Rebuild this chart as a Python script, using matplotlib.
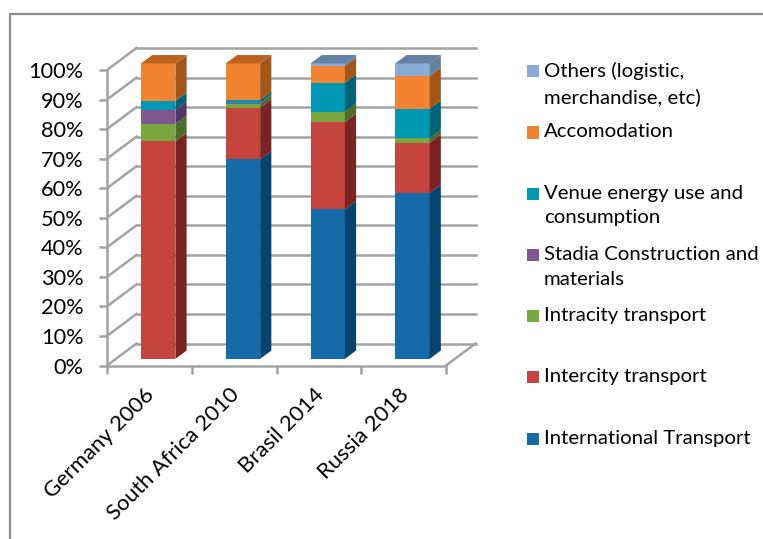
import numpy as np
import matplotlib
matplotlib.use('Agg')
import matplotlib.pyplot as plt
from matplotlib.lines import Line2D
from matplotlib.patches import Polygon, Rectangle

plt.rcParams['font.family'] = ['Lato', 'DejaVu Sans']

# data
years = ['Germany 2006', 'South Africa 2010', 'Brasil 2014', 'Russia 2018']
international = [0.0, 67.5, 50.6, 56.1]
intercity = [73.6, 17.5, 29.5, 17.0]
intracity = [6.0, 1.4, 3.6, 1.6]
stadia = [4.7, 0.3, 0.0, 0.0]
venue = [3.0, 0.9, 9.7, 9.9]
accomodation = [12.7, 12.4, 5.7, 11.2]
others = [0.0, 0.0, 0.9, 4.2]

names = ['International Transport', 'Intercity transport', 'Intracity transport',
         'Stadia Construction and\nmaterials', 'Venue energy use and\nconsumption',
         'Accomodation', 'Others (logistic,\nmerchandise, etc)']
series = [international, intercity, intracity, stadia, venue, accomodation, others]
front_cols = ['#156BA8', '#C5443E', '#7AA63F', '#7F5692', '#0098B3', '#F28330', '#8AABD6']
side_cols = ['#054470', '#7B2222', '#4D6B2A', '#4F3666', '#006478', '#A35618', '#64809F']
top_cols = ['#0A5082', '#8F2B2B', '#5A7D30', '#5C3F75', '#00738A', '#BB6420', '#6580A5']

W, H = 763, 539
fig = plt.figure(figsize=(W / 100, H / 100), dpi=100)

# front plane of the fake 3d box, in pixels
left, right, bottom, top = 107, 446, 365.5, 70
ax = fig.add_axes([left / W, 1 - bottom / H, (right - left) / W, (bottom - top) / H])
ax.set_xlim(0, 4)
ax.set_ylim(0, 100)
ax.patch.set_visible(False)

# depth of the box in data units
dx = 29.5 / ((right - left) / 4)
dy = 22 / ((bottom - top) / 100)
grey = '#A3A3A3'

for v in range(0, 101, 10):
    ax.plot([0, dx], [v, v + dy], color=grey, lw=1.8, clip_on=False, zorder=1)
    ax.plot([dx, 4 + dx], [v + dy, v + dy], color=grey, lw=1.8, clip_on=False, zorder=1)
ax.plot([4, 4 + dx], [0, dy], color=grey, lw=1.8, clip_on=False, zorder=1)

# bars, front face with ax.bar and side and top as polygons
d0, d1 = 0.3, 0.68
bw = 0.405
for i in range(len(years)):
    xl = i + 0.5 - bw / 2 + d0 * dx
    xr = xl + bw
    ox = (d1 - d0) * dx
    oy = (d1 - d0) * dy
    base = d0 * dy
    for s, vals in enumerate(series):
        h = vals[i]
        if h == 0:
            continue
        ax.bar(xl, h, bw, bottom=base, align='edge', color=front_cols[s], clip_on=False, zorder=3)
        side = [(xr, base), (xr + ox, base + oy), (xr + ox, base + h + oy), (xr, base + h)]
        ax.add_patch(Polygon(side, closed=True, fc=side_cols[s], ec='none', clip_on=False, zorder=3))
        base += h
        last = s
    roof = [(xl, base), (xr, base), (xr + ox, base + oy), (xl + ox, base + oy)]
    ax.add_patch(Polygon(roof, closed=True, fc=top_cols[last], ec='none', clip_on=False, zorder=3))

# axes
for name in ['top', 'right']:
    ax.spines[name].set_visible(False)
for name in ['left', 'bottom']:
    ax.spines[name].set_color(grey)
    ax.spines[name].set_linewidth(1.8)
ax.set_yticks(np.arange(0, 101, 10))
ax.set_yticklabels(['%d%%' % v for v in range(0, 101, 10)], fontsize=15.7, color='black')
ax.tick_params(axis='y', length=6, width=1.8, color=grey, pad=11)
ax.set_xticks(range(5))
ax.set_xticklabels([])
ax.tick_params(axis='x', which='major', length=6, width=1.8, color=grey)
ax.set_xticks(np.arange(4) + 0.44, minor=True)
ax.set_xticklabels(years, minor=True, rotation=45, ha='right', va='top',
                   rotation_mode='anchor', fontsize=15.9)
ax.tick_params(axis='x', which='minor', length=0, pad=13.5)

# legend, from the top down
legend_y = [71, 132.5, 193.5, 255, 316, 377, 439]
for y, name, col in zip(legend_y, names[::-1], front_cols[::-1]):
    fig.add_artist(Rectangle((527 / W, 1 - (y + 6) / H), 12 / W, 12 / H, fc=col, ec='none',
                             transform=fig.transFigure))
    fig.text(544 / W, 1 - (y - 9) / H, name, fontsize=14.65, va='top', ha='left', linespacing=1.56)

# chart frame
fig.add_artist(Line2D([9.5 / W, 9.5 / W, 1], [0, 1 - 13.5 / H, 1 - 13.5 / H], color='#8C8C8C', lw=1.6))

plt.savefig('out.png', dpi=100)
